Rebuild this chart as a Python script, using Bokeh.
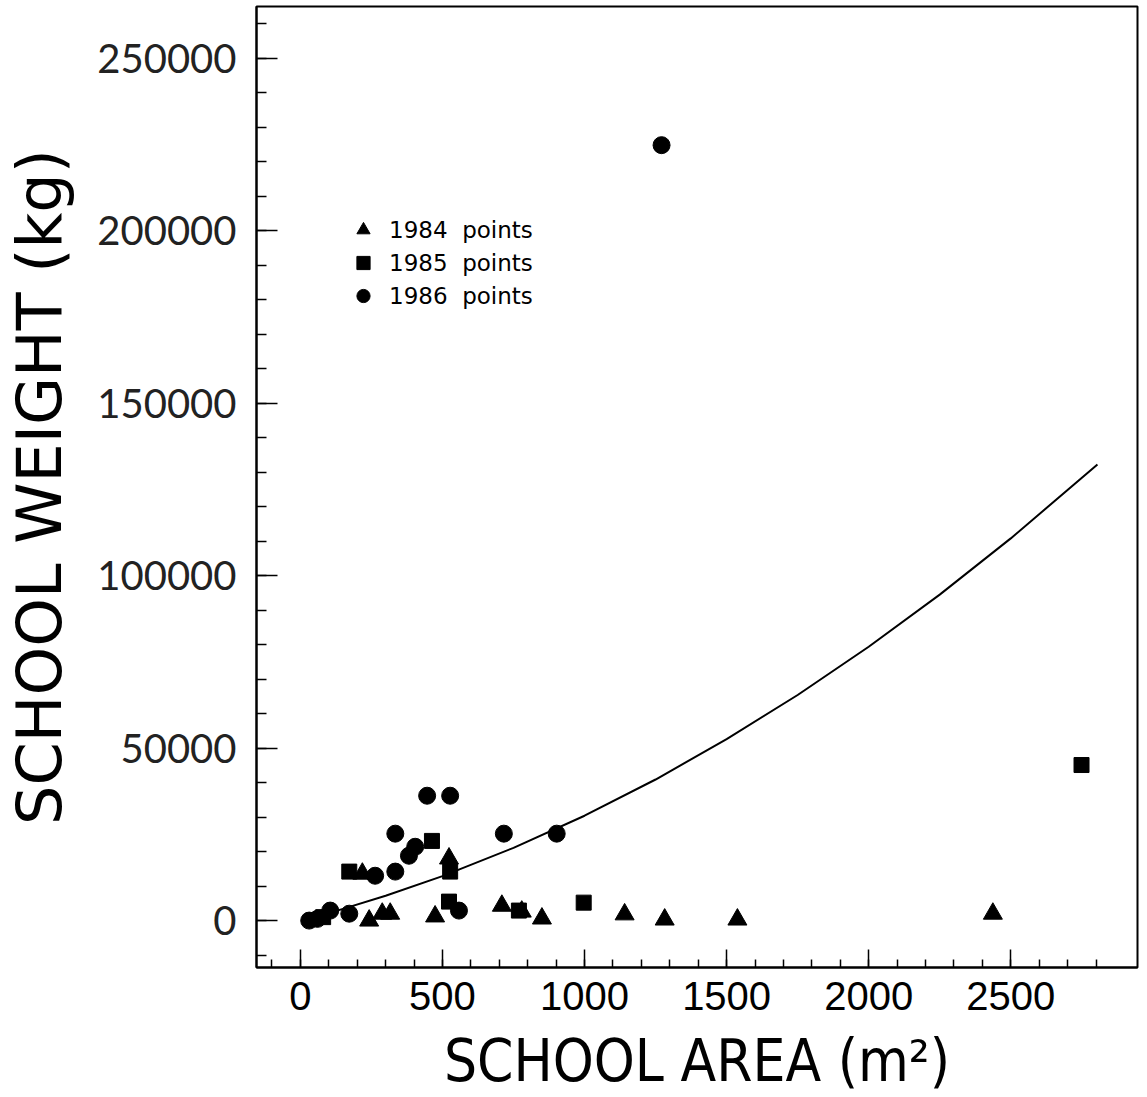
from bokeh.plotting import figure
from bokeh.models import Range1d, FixedTicker, Legend, LegendItem
from bokeh.embed import file_html
from bokeh.resources import INLINE

# 1984 points (triangles)
area_1984 = [218, 242, 288, 316, 474, 523, 709, 779, 850, 1141, 1282, 1538, 2437]
weight_1984 = [13600, 0, 2000, 2000, 1200, 18000, 4300, 2600, 600, 1800, 300, 300, 2000]

# 1985 points (squares)
area_1985 = [80, 172, 463, 527, 523, 769, 997, 2749]
weight_1985 = [1000, 14200, 23100, 14200, 5500, 2900, 5200, 45100]

# 1986 points (circles)
area_1986 = [31, 60, 105, 172, 263, 334, 334, 382, 404, 446, 527, 558, 716, 902, 1271]
weight_1986 = [0, 500, 2900, 2000, 13000, 14200, 25200, 18800, 21400, 36200, 36200, 2900, 25200, 25200, 224800]

# fitted curve
fit_area = [100, 150, 300, 500, 750, 1000, 1250, 1500, 1750, 2000, 2250, 2500, 2805]
fit_weight = [2200, 3400, 7200, 12900, 21100, 30400, 40900, 52600, 65400, 79400, 94500, 110800, 132200]

x_ticks = [0, 500, 1000, 1500, 2000, 2500]
y_ticks = [0, 50000, 100000, 150000, 200000, 250000]
y_tick_labels = ["0", "50000", "100000", "150000", "200000", "250000"]
legend_labels = ["1984  points", "1985  points", "1986  points"]

p = figure(width=1147, height=1097, output_backend="svg", toolbar_location=None,
           x_range=Range1d(-154.5, 2946), y_range=Range1d(-13600, 265000),
           min_border_left=254, min_border_right=10, min_border_top=6, min_border_bottom=128)
p.xgrid.visible = False
p.ygrid.visible = False
p.background_fill_color = "white"
p.border_fill_color = "white"
p.outline_line_color = "black"
p.outline_line_width = 2

p.line(fit_area, fit_weight, line_color="black", line_width=2)

r84 = p.scatter(area_1984, weight_1984, marker="triangle", size=19, fill_color="black", line_color="black")
r85 = p.scatter(area_1985, weight_1985, marker="square", size=15, fill_color="black", line_color="black")
r86 = p.scatter(area_1986, weight_1986, marker="circle", size=17, fill_color="black", line_color="black")

legend = Legend(items=[LegendItem(label=legend_labels[0], renderers=[r84]),
                       LegendItem(label=legend_labels[1], renderers=[r85]),
                       LegendItem(label=legend_labels[2], renderers=[r86])],
                location=(90, 655), border_line_color=None, background_fill_alpha=0,
                padding=0, margin=0, spacing=0, glyph_width=34, glyph_height=33,
                label_standoff=9, label_text_font="DejaVu Sans", label_text_font_size="23px",
                label_text_color="black", label_height=33)
p.add_layout(legend)

xa = p.xaxis[0]
xa.ticker = FixedTicker(ticks=x_ticks, minor_ticks=list(range(-100, 2900, 100)))
xa.major_tick_in = 18
xa.major_tick_out = 0
xa.minor_tick_in = 8
xa.minor_tick_out = 0
xa.axis_line_width = 2
xa.major_tick_line_width = 1.5
xa.minor_tick_line_width = 1.5
xa.major_label_text_font = "Liberation Sans"
xa.major_label_text_font_size = "40px"
xa.major_label_text_color = "black"
xa.major_label_standoff = 14
xa.axis_label = "SCHOOL AREA (m²)"
xa.axis_label_text_font = "DejaVu Sans Condensed"
xa.axis_label_text_font_size = "58px"
xa.axis_label_text_font_style = "normal"
xa.axis_label_text_color = "black"
xa.axis_label_standoff = 14

ya = p.yaxis[0]
ya.ticker = FixedTicker(ticks=y_ticks, minor_ticks=list(range(-10000, 270000, 10000)))
ya.major_label_overrides = {t: s for t, s in zip(y_ticks, y_tick_labels)}
ya.major_tick_in = 21
ya.major_tick_out = 0
ya.minor_tick_in = 10
ya.minor_tick_out = 0
ya.axis_line_width = 2
ya.major_tick_line_width = 1.5
ya.minor_tick_line_width = 1.5
ya.major_label_text_font = "Lato"
ya.major_label_text_font_size = "40px"
ya.major_label_text_color = "#222222"
ya.major_label_standoff = 20
ya.axis_label = "SCHOOL WEIGHT (kg)"
ya.axis_label_text_font = "DejaVu Sans"
ya.axis_label_text_font_size = "62px"
ya.axis_label_text_font_style = "normal"
ya.axis_label_text_color = "black"
ya.axis_label_standoff = 18

open("out.html", "w").write(file_html(p, INLINE))
